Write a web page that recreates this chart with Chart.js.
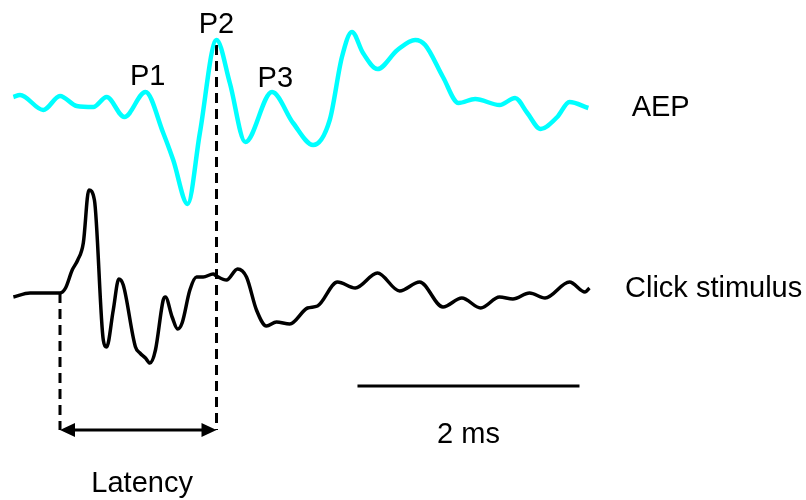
<!DOCTYPE html>
<html>
<head>
<meta charset="utf-8">
<script src="https://cdn.jsdelivr.net/npm/chart.js@4"></script>
<style>
  html, body { margin: 0; padding: 0; background: #fff; }
  #wrap { width: 806px; height: 500px; }
</style>
</head>
<body>
<div id="wrap"><canvas id="chart" width="806" height="500"></canvas></div>
<script>
// time in ms (0 = click onset), amplitude in arbitrary units
const aepTime = [-0.42, -0.36, -0.15, 0.00, 0.15, 0.30, 0.42, 0.58, 0.77, 0.93, 1.02, 1.15, 1.26, 1.41, 1.53, 1.67, 1.91, 2.10, 2.28, 2.43, 2.54, 2.63, 2.73, 2.86, 3.04, 3.20, 3.29, 3.45, 3.59, 3.74, 3.96, 4.10, 4.21, 4.33, 4.48, 4.59, 4.76];
const aepAmp  = [80.6, 81.0, 78.0, 80.8, 78.8, 78.6, 80.6, 76.6, 81.6, 73.4, 68.0, 59.2, 73.4, 92.0, 83.4, 71.6, 81.6, 75.4, 71.0, 76.0, 88.6, 93.6, 89.4, 86.2, 90.0, 92.0, 91.0, 84.6, 79.4, 80.2, 79.0, 80.4, 77.4, 74.2, 76.6, 79.6, 78.4];

const clickTime = [-0.42, -0.27, 0.00, 0.05, 0.11, 0.16, 0.21, 0.26, 0.31, 0.39, 0.42, 0.48, 0.53, 0.57, 0.68, 0.72, 0.77, 0.81, 0.86, 0.93, 0.95, 1.01, 1.06, 1.10, 1.17, 1.23, 1.29, 1.38, 1.41, 1.50, 1.60, 1.68, 1.77, 1.86, 1.95, 2.07, 2.23, 2.32, 2.50, 2.66, 2.86, 3.06, 3.24, 3.45, 3.62, 3.79, 3.96, 4.08, 4.23, 4.37, 4.59, 4.73, 4.77];
const clickAmp  = [40.6, 41.4, 41.4, 42.4, 46.0, 48.0, 51.4, 62.0, 60.0, 32.0, 30.6, 38.0, 44.2, 43.0, 30.6, 29.4, 28.4, 27.4, 30.0, 40.0, 40.6, 36.6, 34.2, 35.4, 42.0, 44.6, 44.6, 45.2, 44.8, 44.0, 46.2, 44.6, 38.0, 34.8, 35.6, 35.2, 38.4, 38.8, 43.6, 42.4, 45.4, 41.8, 43.6, 38.6, 40.4, 38.4, 40.6, 40.2, 41.4, 40.4, 43.6, 41.6, 42.4];

const onsetTime = 0;      // click onset
const p2Time = 1.41;      // P2 peak
const barStart = 2.68;    // 2 ms scale bar
const barLength = 2;

const markerBottom = 14;
const barLevel = 22.8;

const labels = [
  { text: 'P1', x: 0.79, y: 83.0, align: 'center' },
  { text: 'P2', x: 1.41, y: 93.4, align: 'center' },
  { text: 'P3', x: 1.94, y: 82.6, align: 'center' },
  { text: 'AEP', x: 5.15, y: 76.8, align: 'left' },
  { text: 'Click stimulus', x: 5.09, y: 40.6, align: 'left' },
  { text: '2 ms', x: 3.68, y: 11.4, align: 'center' },
  { text: 'Latency', x: 0.74, y: 1.6, align: 'center' }
];

const toPoints = (xs, ys) => xs.map((x, i) => ({ x: x, y: ys[i] }));

// text labels + arrow heads
const overlay = {
  id: 'overlay',
  afterDatasetsDraw(chart) {
    const ctx = chart.ctx;
    const xs = chart.scales.x, ys = chart.scales.y;
    ctx.save();
    ctx.fillStyle = '#000';
    ctx.font = '29px "Liberation Sans", Arial, sans-serif';
    ctx.textBaseline = 'alphabetic';
    labels.forEach(l => {
      ctx.textAlign = l.align;
      ctx.fillText(l.text, xs.getPixelForValue(l.x), ys.getPixelForValue(l.y));
    });
    // arrow heads on the latency arrow
    const ay = ys.getPixelForValue(markerBottom);
    const x0 = xs.getPixelForValue(onsetTime);
    const x1 = xs.getPixelForValue(p2Time);
    const len = 15, half = 7;
    ctx.beginPath();
    ctx.moveTo(x0, ay);
    ctx.lineTo(x0 + len, ay - half);
    ctx.lineTo(x0 + len, ay + half);
    ctx.closePath();
    ctx.moveTo(x1, ay);
    ctx.lineTo(x1 - len, ay - half);
    ctx.lineTo(x1 - len, ay + half);
    ctx.closePath();
    ctx.fill();
    ctx.restore();
  }
};

new Chart(document.getElementById('chart'), {
  type: 'scatter',
  data: {
    datasets: [
      {
        label: 'AEP',
        data: toPoints(aepTime, aepAmp),
        showLine: true,
        borderColor: '#00ffff',
        borderWidth: 4.5,
        cubicInterpolationMode: 'monotone',
        pointRadius: 0
      },
      {
        label: 'Click stimulus',
        data: toPoints(clickTime, clickAmp),
        showLine: true,
        borderColor: '#000',
        borderWidth: 3.5,
        cubicInterpolationMode: 'monotone',
        pointRadius: 0
      },
      {
        label: 'onset',
        data: [{ x: onsetTime, y: clickAmp[2] }, { x: onsetTime, y: markerBottom }],
        showLine: true,
        borderColor: '#000',
        borderWidth: 3,
        borderDash: [10, 6],
        pointRadius: 0
      },
      {
        label: 'p2',
        data: [{ x: p2Time, y: 91 }, { x: p2Time, y: markerBottom }],
        showLine: true,
        borderColor: '#000',
        borderWidth: 3,
        borderDash: [10, 6],
        pointRadius: 0
      },
      {
        label: 'latency',
        data: [{ x: onsetTime + 0.05, y: markerBottom }, { x: p2Time - 0.05, y: markerBottom }],
        showLine: true,
        borderColor: '#000',
        borderWidth: 3,
        pointRadius: 0
      },
      {
        label: 'scale bar',
        data: [{ x: barStart, y: barLevel }, { x: barStart + barLength, y: barLevel }],
        showLine: true,
        borderColor: '#000',
        borderWidth: 3,
        pointRadius: 0
      }
    ]
  },
  options: {
    responsive: false,
    animation: false,
    layout: { padding: 0 },
    plugins: { legend: { display: false }, tooltip: { enabled: false } },
    scales: {
      x: { type: 'linear', display: false, min: -60 / 111, max: 746 / 111 },
      y: { type: 'linear', display: false, min: 0, max: 100 }
    }
  },
  plugins: [overlay]
});
</script>
</body>
</html>
